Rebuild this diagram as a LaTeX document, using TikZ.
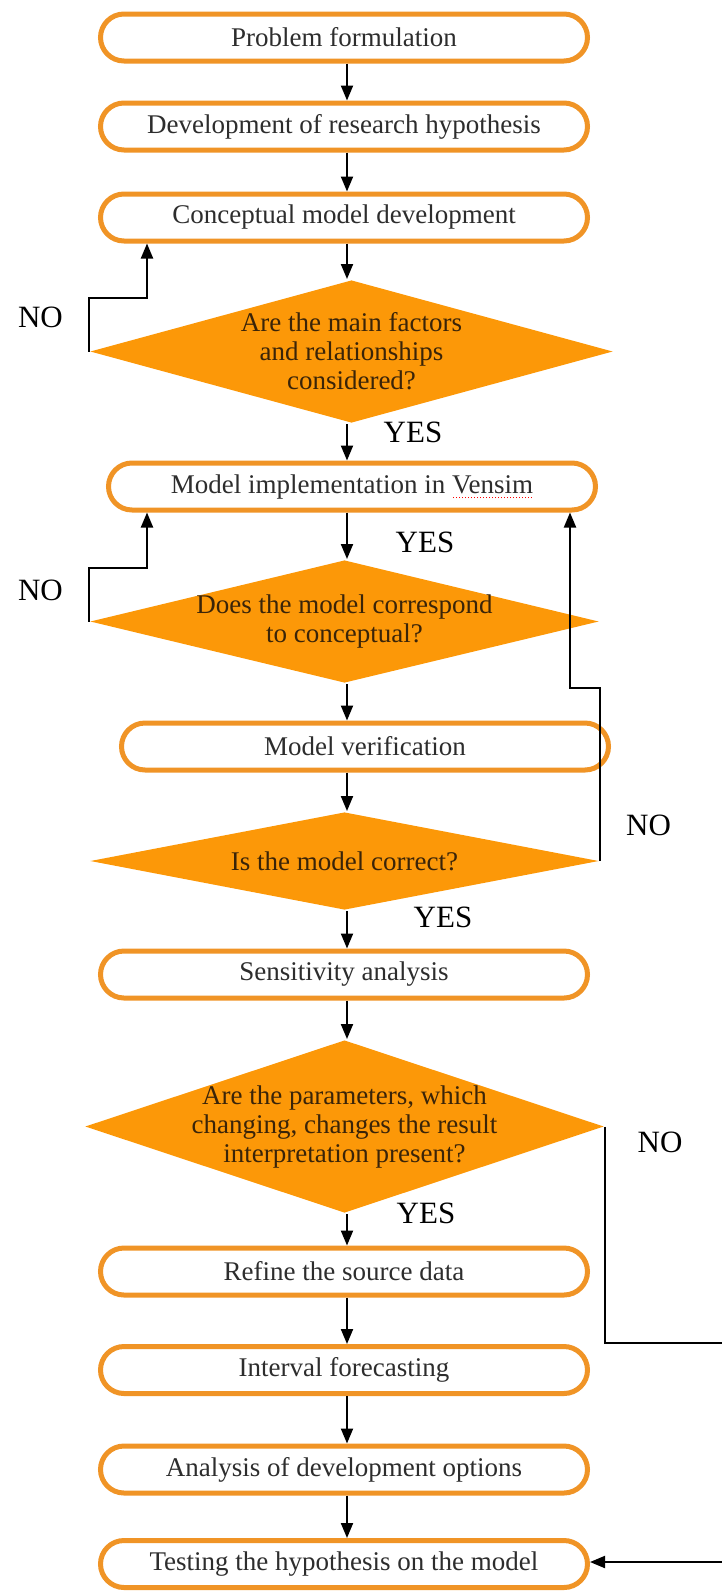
\documentclass[tikz,border=0pt]{standalone}
\usepackage{fontspec}
\setmainfont{Liberation Serif}
\usetikzlibrary{arrows.meta,shapes.geometric}
\definecolor{boxorange}{RGB}{240,148,38}
\definecolor{qorange}{RGB}{252,152,8}
\definecolor{qtextcol}{RGB}{58,36,8}
\definecolor{stagetext}{RGB}{45,45,45}
\newcommand\spellmark[1]{\setbox0\hbox{#1}\rlap{\copy0}\raisebox{-5pt}{\color{red}\leaders\hbox to 3pt{\hss\rule{1.5pt}{1.5pt}\hss}\hskip\wd0}}
\tikzset{
    stage/.style={draw=boxorange, line width=5pt, fill=white, rounded corners=23.5pt,
        minimum width=487pt, minimum height=47pt, inner sep=0pt,
        font=\fontsize{27}{31}\selectfont, text=stagetext},
    query/.style={diamond, fill=qorange, inner sep=0pt},
    qtext/.style={align=center, inner sep=0pt, text=qtextcol, font=\fontsize{27}{29}\selectfont},
    answer/.style={inner sep=0pt, font=\fontsize{31}{31}\selectfont}
}
\begin{document}
\begin{tikzpicture}[x=1pt, y=-1pt, >={Triangle[length=15pt,width=12pt]}, line width=2pt]
\useasboundingbox (0,0) rectangle (722,1591);
\coordinate (axis) at (347,0);
\node[stage] (prob) at (344,37.5) {Problem formulation};
\node[stage] (hyp) at (344,126.5) {Development of research hypothesis};
\node[stage] (concept) at (344,217.5) {Conceptual model development};
\node[query, minimum width=523pt, minimum height=143pt] (q1) at (351.5,351.5) {};
\node[qtext] (q1t) at (q1) {Are the main factors\\and relationships\\considered?};
\node[stage] (impl) at (352,486.5) {Model implementation in \spellmark{Vensim}};
\node[query, minimum width=509pt, minimum height=123pt] (q2) at (344.5,621.5) {};
\node[qtext] (q2t) at (q2) {Does the model correspond\\to conceptual?};
\node[stage] (verif) at (365,746.5) {Model verification};
\node[query, minimum width=509pt, minimum height=98pt] (q3) at (344.5,861) {};
\node[qtext] (q3t) at (q3) {Is the model correct?};
\node[stage] (sens) at (344,974.5) {Sensitivity analysis};
\node[query, minimum width=519pt, minimum height=173pt] (q4) at (344.5,1126.5) {};
\node[qtext] (q4t) at (q4) {Are the parameters, which\\changing, changes the result\\interpretation present?};
\node[stage] (refine) at (344,1271.5) {Refine the source data};
\node[stage] (interval) at (344,1370) {Interval forecasting};
\node[stage] (options) at (344,1469.5) {Analysis of development options};
\node[stage] (testing) at (344,1564) {Testing the hypothesis on the model};
\foreach \a/\b in {prob/hyp, hyp/concept, concept/q1, q1/impl, impl/q2, q2/verif,
    verif/q3, q3/sens, sens/q4, q4/refine, refine/interval, interval/options, options/testing}
{
    \draw[->] (\a.south -| axis) -- (\b.north -| axis);
}
\coordinate (n1) at (147,298);
\draw[->] (q1.west) |- (n1) -- (n1 |- concept.south);
\coordinate (n2) at (147,568);
\draw[->] (q2.west) |- (n2) -- (n2 |- impl.south);
\coordinate (n3) at (570,688);
\draw[->] (q3.east) |- (n3) -- (n3 |- impl.south);
\coordinate (n4) at (722,1343);
\draw (q4.east) |- (n4);
\coordinate (n5) at (722,1562);
\draw[->] (n5) -- (testing.east |- n5);
\node[answer] (no1) at (40.5,317) {NO};
\node[answer] (no2) at (40.5,590) {NO};
\node[answer] (no3) at (648.5,825) {NO};
\node[answer] (no4) at (660,1142) {NO};
\node[answer] (yes1) at (413,432) {YES};
\node[answer] (yes2) at (425,542) {YES};
\node[answer] (yes3) at (443,917) {YES};
\node[answer] (yes4) at (426,1213) {YES};
\end{tikzpicture}
\end{document}
